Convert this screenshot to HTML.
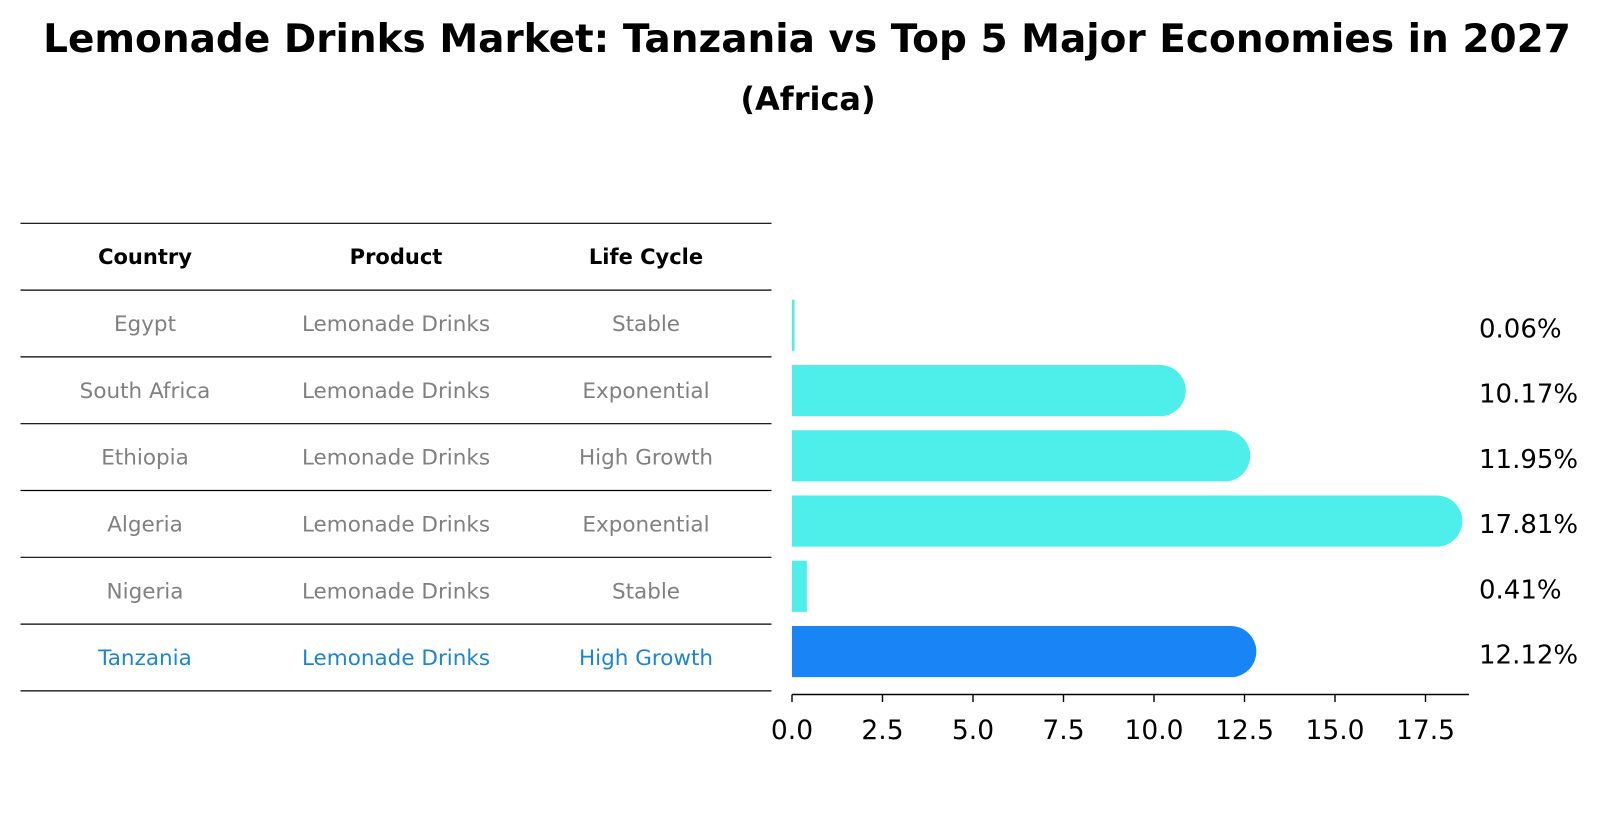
<!DOCTYPE html>
<html><head><meta charset="utf-8"><style>
body{margin:0;background:#fff;font-family:"Liberation Sans","DejaVu Sans",sans-serif}
</style></head><body>
<svg width="1604" height="823" xmlns="http://www.w3.org/2000/svg" font-family="DejaVu Sans, Liberation Sans, sans-serif">
<rect width="1604" height="823" fill="#fff"/>
<text x="807" y="52" text-anchor="middle" font-size="39" font-weight="bold">Lemonade Drinks Market: Tanzania vs Top 5 Major Economies in 2027</text>
<text x="808" y="110" text-anchor="middle" font-size="32" font-weight="bold">(Africa)</text>
<g id="table"></g>
<g id="bars"></g>
<g id="axis"></g>
</svg>
<script>
const countries=["Egypt","South Africa","Ethiopia","Algeria","Nigeria","Tanzania"];
const products=["Lemonade Drinks","Lemonade Drinks","Lemonade Drinks","Lemonade Drinks","Lemonade Drinks","Lemonade Drinks"];
const lifeCycles=["Stable","Exponential","High Growth","Exponential","Stable","High Growth"];
const values=[0.06,10.17,11.95,17.81,0.41,12.12];
const valueLabels=["0.06%","10.17%","11.95%","17.81%","0.41%","12.12%"];
const ticks=[0,2.5,5,7.5,10,12.5,15,17.5];
const NS="http://www.w3.org/2000/svg";
function mk(tag,attrs,parent,txt){const e=document.createElementNS(NS,tag);for(const k in attrs)e.setAttribute(k,attrs[k]);if(txt!==undefined)e.textContent=txt;parent.appendChild(e);return e;}
const x0=792,pxPer=36.2;
const x=v=>x0+v*pxPer;
const barY=i=>325.3+i*65.25;
const tableRowY=i=>323.6+i*66.8;
const half=25.6;
const table=document.getElementById('table');
for(let k=0;k<8;k++){const y=223.3+k*66.8;
 const l=mk('line',{x1:20.5,x2:771.5,y1:y,y2:y,stroke:'#000','stroke-width':1.2},table);
 
 }
const colX=[145,396,646];
["Country","Product","Life Cycle"].forEach((h,j)=>{const t=mk('text',{x:colX[j],y:264,'text-anchor':'middle','font-size':21,'font-weight':'bold'},table,h);
 
 });
countries.forEach((c,i)=>{
 const col=c==="Tanzania"?"#1a85d6":"#808080";
 [c,products[i],lifeCycles[i]].forEach((s,j)=>{const t=mk('text',{x:colX[j],y:tableRowY(i)+7.5,'text-anchor':'middle','font-size':21.5,fill:col},table,s);
 
 });
});
const bars=document.getElementById('bars');
values.forEach((v,i)=>{
 const cy=barY(i), col=countries[i]==="Tanzania"?"#1984f5":"#4eeeea";
 const w=x(v)-x0;
 let d;
 if(w>2*half){d=`M${x0},${cy-half} H${x(v)} A${half},${half} 0 0 1 ${x(v)},${cy+half} H${x0} Z`;}
 else{d=`M${x0},${cy-half} H${x0+Math.max(w,2.5)} V${cy+half} H${x0} Z`;}
 const p=mk('path',{d:d,fill:col},bars);
 
 
 const t=mk('text',{x:1479,y:cy+12,'font-size':26},bars,valueLabels[i]);
 
 
});
const axis=document.getElementById('axis');
const al=mk('line',{x1:x0,x2:1469,y1:694.5,y2:694.5,stroke:'#000','stroke-width':1.5},axis);


ticks.forEach(tv=>{
 const tl=mk('line',{x1:x(tv),x2:x(tv),y1:694.5,y2:702,stroke:'#000','stroke-width':1.4},axis);
 
 
 const t=mk('text',{x:x(tv),y:739,'text-anchor':'middle','font-size':26.5},axis,tv.toFixed(1));
 
 
});
</script>
</body></html>
